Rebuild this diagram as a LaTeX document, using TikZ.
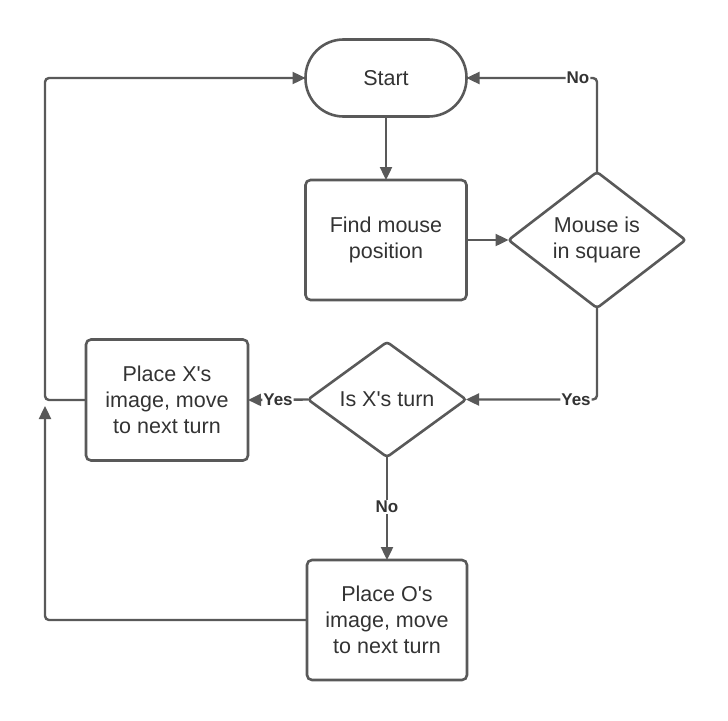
\documentclass[tikz,border=0pt]{standalone}
\usepackage{fontspec}
\setmainfont{Liberation Sans}
\usetikzlibrary{shapes.geometric,arrows.meta}
\definecolor{ln}{HTML}{595959}
\definecolor{tx}{HTML}{333333}
\begin{document}
\begin{tikzpicture}[x=1pt,y=1pt,
  every node/.style={text=tx,font=\fontsize{21.5}{26}\selectfont,align=center,inner sep=0pt,outer sep=0pt},
  boxnode/.style={draw=ln,line width=2.6pt,rounded corners=5pt,minimum width=161pt,minimum height=120pt},
  termnode/.style={draw=ln,line width=2.6pt,rounded corners=38pt,minimum width=161pt,minimum height=77pt},
  decnode/.style={draw=ln,line width=2.6pt,diamond,rounded corners=3pt},
  conn/.style={draw=ln,line width=2.4pt,rounded corners=4pt},
  arr/.style={conn,-{Triangle[length=13pt,width=12pt]}},
  lbl/.style={fill=white,font=\fontsize{17}{20}\selectfont\bfseries,inner sep=1pt}]
\useasboundingbox (0,0) rectangle (728,-720);
\node[termnode] (start) at (386,-78) {Start};
\node[boxnode] (find) at (386,-240) {Find mouse\\position};
\node[decnode,minimum width=177pt,minimum height=136pt] (mouse) at (597,-240) {Mouse is\\in square};
\node[decnode,minimum width=158pt,minimum height=115pt] (isx) at (387,-399.5) {Is X\textquotesingle s turn};
\node[boxnode,minimum width=162pt,minimum height=121pt] (placex) at (167,-400) {Place X\textquotesingle s\\image, move\\to next turn};
\node[boxnode,minimum width=160pt] (placeo) at (387,-620) {Place O\textquotesingle s\\image, move\\to next turn};
\coordinate (oend) at (45,-406);

\draw[arr] (start) -- (find);
\draw[arr] (find) -- (mouse);
\draw[arr] (mouse.north) |- (start.east) node[lbl,pos=0.573] {No};
\draw[arr] (mouse.south) |- (isx.east) node[lbl,pos=0.58] {Yes};
\draw[arr] (isx.west) -- (placex.east) node[lbl,pos=0.5] {Yes};
\draw[arr] (isx.south) -- (placeo.north) node[lbl,pos=0.485] {No};
\draw[arr] (placex.west) -- (45,-400) |- (start.west);
\draw[arr] (placeo.west) -| (oend);
\end{tikzpicture}
\end{document}
